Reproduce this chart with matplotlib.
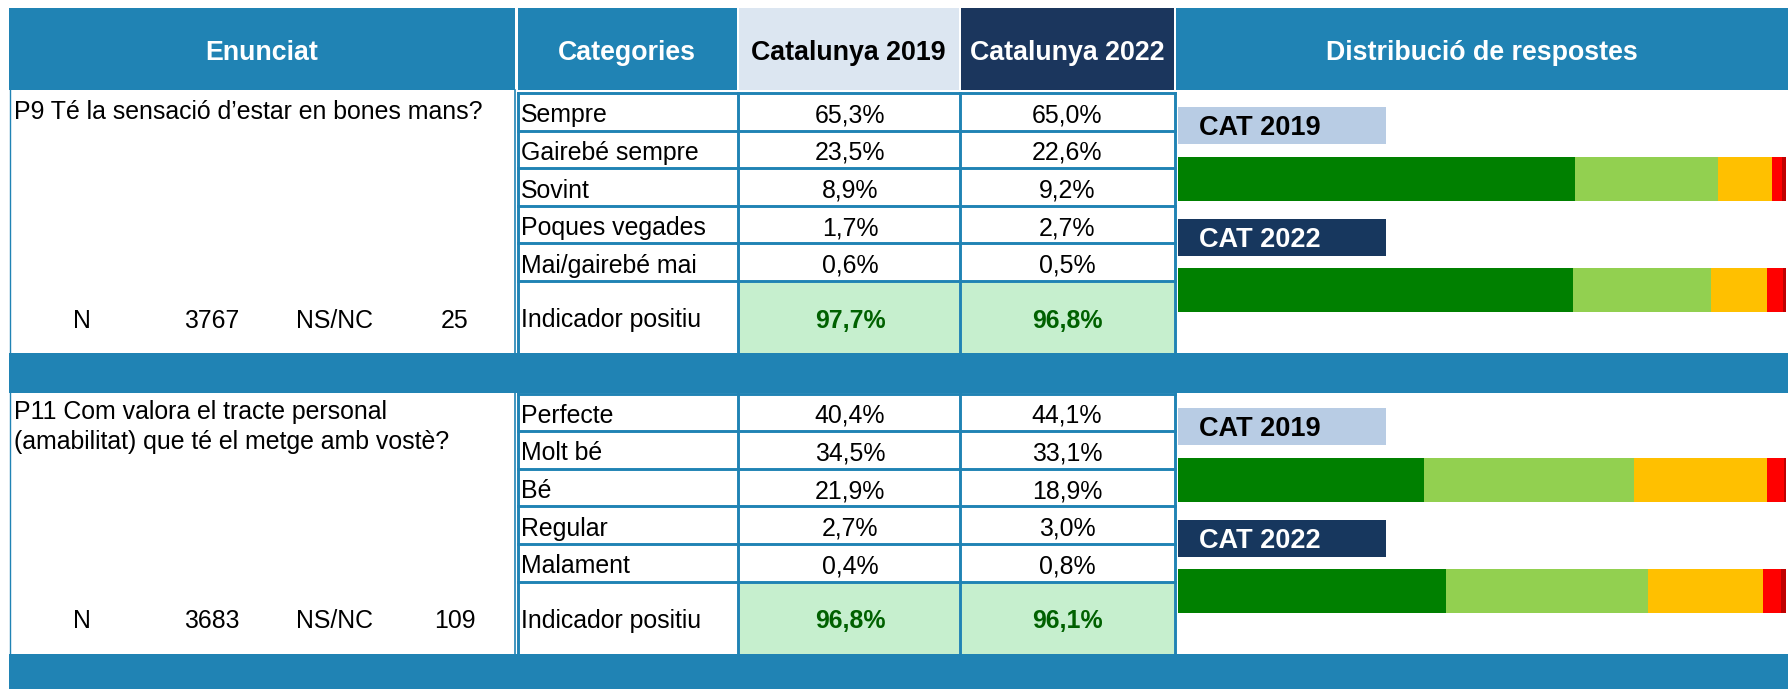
import numpy as np
import matplotlib
matplotlib.use('Agg')
import matplotlib.pyplot as plt
from matplotlib.patches import Rectangle

plt.rcParams['font.family'] = ['Liberation Sans', 'DejaVu Sans']

# dades
headers = ['Enunciat', 'Categories', 'Catalunya 2019', 'Catalunya 2022', 'Distribució de respostes']
years = ['CAT 2019', 'CAT 2022']

p9_question = ['P9 Té la sensació d’estar en bones mans?']
p9_categories = ['Sempre', 'Gairebé sempre', 'Sovint', 'Poques vegades', 'Mai/gairebé mai']
p9_2019 = [65.3, 23.5, 8.9, 1.7, 0.6]
p9_2022 = [65.0, 22.6, 9.2, 2.7, 0.5]
p9_indicador = [97.7, 96.8]
p9_n = 3767
p9_nsnc = 25

p11_question = ['P11 Com valora el tracte personal', '(amabilitat) que té el metge amb vostè?']
p11_categories = ['Perfecte', 'Molt bé', 'Bé', 'Regular', 'Malament']
p11_2019 = [40.4, 34.5, 21.9, 2.7, 0.4]
p11_2022 = [44.1, 33.1, 18.9, 3.0, 0.8]
p11_indicador = [96.8, 96.1]
p11_n = 3683
p11_nsnc = 109

# colors
BLUE = '#2083B4'
NAVY = '#1B365D'
LIGHT = '#DCE6F1'
BOX19 = '#B8CCE4'
BOX22 = '#17375E'
IND_BG = '#C6EFCE'
IND_TXT = '#006100'
bar_colors = ['#008000', '#92D050', '#FFC000', '#FF0000', '#C00000']

W, H = 1788, 689
fig = plt.figure(figsize=(W / 100, H / 100), dpi=100)
ax = fig.add_axes([0, 0, 1, 1])
ax.set_xlim(0, W)
ax.set_ylim(H, 0)
ax.axis('off')

FS = 17.9
FSB = 19.3
DY = 3.5  # petit desplaçament vertical del text


def pct(v):
    return f'{v:.1f}%'.replace('.', ',')


def rect(x0, y0, x1, y1, color, z=1):
    ax.add_patch(Rectangle((x0, y0), x1 - x0, y1 - y0, facecolor=color, edgecolor='none', zorder=z))


# columnes
cols = [(9, 515), (517.5, 736.5), (738.5, 958.5), (960.5, 1173.5), (1176, W)]
head_bg = [BLUE, BLUE, LIGHT, NAVY, BLUE]
head_fg = ['white', 'white', 'black', 'white', 'white']

# capçalera
for (x0, x1), bg, fg, txt in zip(cols, head_bg, head_fg, headers):
    rect(x0, 8, x1, 90, bg)
    ax.text((x0 + x1) / 2, 50 + 3, txt, ha='center', va='center', fontsize=FSB,
            fontweight='bold', color=fg, zorder=3)

# bandes blaves
rect(9, 353, W, 393, BLUE)
rect(9, 653.5, W, H, BLUE)

row_h = 37.6
block_h = 260


def draw_block(top, question, cats, v19, v22, ind, n, nsnc):
    bottom = top + block_h
    ind_top = top + 5 * row_h

    # vores de l'enunciat
    ax.plot([9.5, 9.5], [top - 3, bottom], color=BLUE, lw=1, zorder=2)
    ax.plot([514.8, 514.8], [top - 3, bottom], color=BLUE, lw=1.2, zorder=2)

    for i, line in enumerate(question):
        ax.text(14, top + 26 + i * 30, line, ha='left', va='baseline', fontsize=FS, zorder=3)

    ny = ind_top + (bottom - ind_top) / 2 + DY
    for x, t in zip([82, 212, 334, 455], ['N', str(n), 'NS/NC', str(nsnc)]):
        ax.text(x, ny, t, ha='center', va='center', fontsize=FS, zorder=3)

    # cel·les indicador
    rect(cols[2][0], ind_top, cols[2][1], bottom, IND_BG)
    rect(cols[3][0], ind_top, cols[3][1], bottom, IND_BG)

    # graella
    xl, xr = 518, 1174.5
    for k in range(6):
        y = top + k * row_h
        ax.plot([xl, xr], [y, y], color=BLUE, lw=2.1, zorder=2, solid_capstyle='projecting')
    for x in [xl, 737.5, 959.5, xr]:
        ax.plot([x, x], [top, bottom], color=BLUE, lw=2.1, zorder=2, solid_capstyle='projecting')

    for k, c in enumerate(cats):
        yc = top + (k + 0.5) * row_h + DY
        ax.text(521, yc, c, ha='left', va='center', fontsize=FS, zorder=3)
        ax.text(850, yc, pct(v19[k]), ha='center', va='center', fontsize=FS, zorder=3)
        ax.text(1067, yc, pct(v22[k]), ha='center', va='center', fontsize=FS, zorder=3)
    ax.text(521, ny, 'Indicador positiu', ha='left', va='center', fontsize=FS, zorder=3)
    ax.text(850, ny, pct(ind[0]), ha='center', va='center', fontsize=FS,
            fontweight='bold', color=IND_TXT, zorder=3)
    ax.text(1067, ny, pct(ind[1]), ha='center', va='center', fontsize=FS,
            fontweight='bold', color=IND_TXT, zorder=3)

    # distribució de respostes
    bx0, bx1 = 1178, 1786
    for j, (label, vals, box_y, bar_y, bg, fg) in enumerate([
            (years[0], v19, 14, 64, BOX19, 'black'),
            (years[1], v22, 126, 175, BOX22, 'white')]):
        rect(1178, top + box_y, 1386, top + box_y + 37, bg)
        ax.text(1199, top + box_y + 21, label, ha='left', va='center', fontsize=19.5,
                fontweight='bold', color=fg, zorder=3)
        y0 = top + bar_y
        y1 = y0 + 44
        bax = fig.add_axes([bx0 / W, 1 - y1 / H, (bx1 - bx0) / W, (y1 - y0) / H])
        left = np.concatenate([[0], np.cumsum(vals)[:-1]])
        bax.barh(0, vals, left=left, height=1, color=bar_colors, linewidth=0)
        bax.set_xlim(0, sum(vals))
        bax.set_ylim(-0.5, 0.5)
        bax.axis('off')


draw_block(93, p9_question, p9_categories, p9_2019, p9_2022, p9_indicador, p9_n, p9_nsnc)
draw_block(393.5, p11_question, p11_categories, p11_2019, p11_2022, p11_indicador, p11_n, p11_nsnc)

fig.savefig('out.png', dpi=100)
